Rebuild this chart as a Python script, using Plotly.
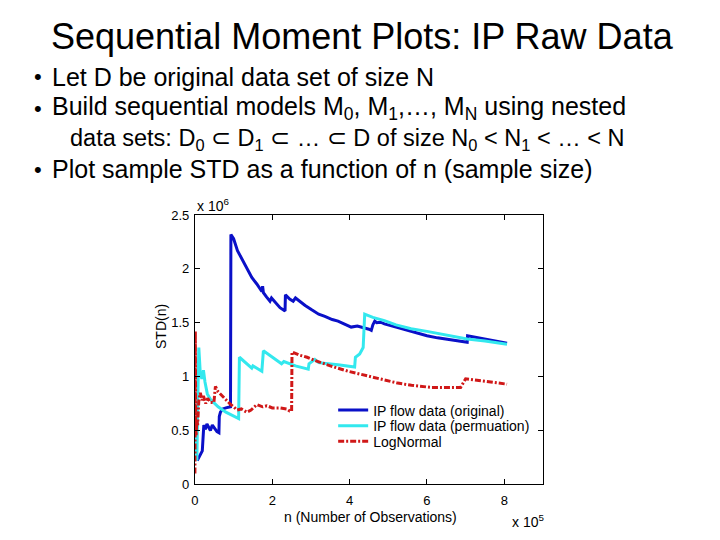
import plotly.graph_objects as go

# ---- data (n in units of 1e5, STD in units of 1e6) ----
orig_n = [0.06, 0.19, 0.23, 0.27, 0.31, 0.36, 0.40, 0.45, 0.50, 0.57, 0.62, 0.63, 0.66, 0.72, 0.80, 0.87, 0.92,
          0.93, 1.00, 1.10, 1.22, 1.35, 1.47, 1.60, 1.70, 1.73, 1.75, 1.77, 1.85, 1.94, 1.98, 2.05, 2.20, 2.33,
          2.34, 2.45, 2.54, 2.60, 2.70, 2.85, 3.02, 3.20, 3.36, 3.55, 3.70, 3.85, 4.04, 4.20, 4.39, 4.50, 4.56,
          4.60, 4.65, 4.70, 4.80, 4.90, 5.20, 5.59, 5.80, 6.00, 6.27, 6.50, 6.80, 7.04, 7.05, 7.50, 8.07]
orig_std = [0.22, 0.31, 0.55, 0.51, 0.56, 0.52, 0.50, 0.55, 0.52, 0.49, 0.48, 0.63, 0.67, 0.70, 0.71, 0.72, 0.72,
            2.32, 2.28, 2.17, 2.09, 2.00, 1.92, 1.86, 1.80, 1.79, 1.84, 1.78, 1.74, 1.70, 1.73, 1.70, 1.64, 1.61,
            1.76, 1.72, 1.70, 1.73, 1.70, 1.66, 1.62, 1.58, 1.56, 1.53, 1.515, 1.49, 1.46, 1.47, 1.455, 1.44, 1.43,
            1.48, 1.515, 1.50, 1.505, 1.49, 1.46, 1.42, 1.40, 1.38, 1.36, 1.35, 1.33, 1.32, 1.38, 1.35, 1.31]

perm_n = [0.02, 0.05, 0.08, 0.10, 0.12, 0.14, 0.18, 0.22, 0.26, 0.32, 0.40, 0.50, 0.60, 0.80, 1.00, 1.13,
          1.15, 1.30, 1.47, 1.50, 1.73, 1.77, 2.00, 2.24, 2.30, 2.45, 2.60, 2.93, 2.95, 3.10, 3.20, 3.70, 3.90,
          4.13, 4.15, 4.26, 4.35, 4.39, 4.60, 4.90, 5.20, 5.59, 6.00, 6.27, 6.60, 7.04, 7.50, 8.07]
perm_std = [0.55, 0.22, 0.90, 1.27, 1.15, 1.02, 0.98, 1.06, 0.95, 0.84, 0.79, 0.75, 0.72, 0.67, 0.63, 0.61,
            1.18, 1.13, 1.08, 1.10, 1.05, 1.24, 1.18, 1.12, 1.14, 1.12, 1.10, 1.07, 1.12, 1.16, 1.13, 1.11, 1.10,
            1.09, 1.18, 1.21, 1.27, 1.58, 1.55, 1.52, 1.48, 1.445, 1.42, 1.40, 1.38, 1.35, 1.33, 1.30]

logn_n = [0.00, 0.01, 0.02, 0.03, 0.05, 0.07, 0.10, 0.14, 0.18, 0.22, 0.28, 0.33, 0.40, 0.49, 0.53, 0.60,
          0.70, 0.80, 0.90, 1.00, 1.09, 1.20, 1.34, 1.45, 1.60, 1.75, 1.86, 2.00, 2.20, 2.37, 2.45, 2.50,
          2.51, 2.70, 2.90, 3.10, 3.50, 3.96, 4.30, 4.64, 5.00, 5.24, 5.60, 6.10, 6.50, 6.87, 7.00, 7.20,
          7.38, 7.70, 8.07]
logn_std = [0.10, 1.42, 0.55, 0.45, 0.60, 0.55, 0.78, 0.85, 0.78, 0.82, 0.75, 0.80, 0.76, 0.76, 0.91, 0.86,
            0.82, 0.78, 0.75, 0.72, 0.69, 0.70, 0.67, 0.69, 0.74, 0.72, 0.73, 0.71, 0.71, 0.70, 0.68, 0.68,
            1.23, 1.20, 1.18, 1.15, 1.10, 1.05, 1.02, 0.99, 0.96, 0.94, 0.92, 0.90, 0.90, 0.90, 0.98, 0.97,
            0.96, 0.95, 0.93]

series_names = ["IP flow data (original)", "IP flow data (permuation)", "LogNormal"]
x_ticks = [0, 2, 4, 6, 8]
y_ticks = [0, 0.5, 1, 1.5, 2, 2.5]

title = "Sequential Moment Plots: IP Raw Data"
bullets = [
    "Let D be original data set of size N",
    "Build sequential models M<sub>0</sub>, M<sub>1</sub>,…, M<sub>N</sub> using nested",
    "data sets: D<sub>0</sub> ⊂ D<sub>1</sub> ⊂ … ⊂ D of size N<sub>0</sub> &lt; N<sub>1</sub> &lt; … &lt; N",
    "Plot sample STD as a function of n (sample size)",
]

FONT = "Arial, Liberation Sans, sans-serif"
W, H = 720, 540

styles = [dict(color="#0a10c8", width=3),
          dict(color="#33e8ee", width=3),
          dict(color="#d01818", width=3, dash="6px,2px,2px,2px")]
legend_ids = ["legend", "legend2", "legend3"]
legend_rows = [415, 431, 447]

fig = go.Figure()
for (xs, ys), name, st, lg in zip([(orig_n, orig_std), (perm_n, perm_std), (logn_n, logn_std)],
                                  series_names, styles, legend_ids):
    fig.add_trace(go.Scatter(x=xs, y=ys, mode="lines", name=name, line=st, legend=lg))

# plot box in pixels
L, R, T, B = 192, 542, 214, 491

axis_common = dict(showgrid=False, zeroline=False, showline=True, linecolor="black", linewidth=1,
                   mirror="ticks", ticks="inside", ticklen=5, tickcolor="black",
                   tickfont=dict(family=FONT, size=13, color="black"))

leg_layout = {}
for lg, row in zip(legend_ids, legend_rows):
    leg_layout[lg] = dict(x=331 / W, y=1 - row / H, xanchor="left", yanchor="middle",
                          bgcolor="rgba(0,0,0,0)", borderwidth=0,
                          font=dict(family=FONT, size=14, color="black"))

fig.update_layout(
    width=W, height=H, margin=dict(l=0, r=0, t=0, b=0),
    paper_bgcolor="white", plot_bgcolor="white",
    font=dict(family=FONT, color="black"),
    xaxis=dict(domain=[L / W, R / W], range=[0, 9], tickvals=x_ticks,
               ticktext=[str(v) for v in x_ticks], ticklabelstandoff=4, **axis_common),
    yaxis=dict(domain=[1 - B / H, 1 - T / H], range=[0, 2.5], tickvals=y_ticks,
               ticktext=[f"{v:g}" for v in y_ticks], ticklabelstandoff=2, **axis_common),
    showlegend=True,
    **leg_layout,
)

ann = []
ann.append(dict(text=title, x=360 / W, y=1 - 30 / H, xref="paper", yref="paper",
                xanchor="center", yanchor="middle", showarrow=False,
                font=dict(family=FONT, size=36, color="black")))
bullet_y = [72, 104, 136, 167]
bullet_sizes = [25, 25, 23.5, 25]
for i, (txt, yy, fs) in enumerate(zip(bullets, bullet_y, bullet_sizes)):
    if i != 2:
        ann.append(dict(text="•", x=34 / W, y=1 - yy / H, xref="paper", yref="paper",
                        xanchor="center", yanchor="middle", showarrow=False,
                        font=dict(family=FONT, size=22, color="black")))
    ann.append(dict(text=txt, x=(46 if i != 2 else 64) / W, y=1 - yy / H, xref="paper", yref="paper",
                    xanchor="left", yanchor="middle", showarrow=False,
                    font=dict(family=FONT, size=fs, color="black")))
ann.append(dict(text="STD(n)", x=158 / W, y=1 - 329 / H, xref="paper", yref="paper",
                textangle=-90, xanchor="center", yanchor="middle", showarrow=False,
                font=dict(family=FONT, size=14, color="black")))
ann.append(dict(text="n (Number of Observations)", x=369 / W, y=1 - 525 / H, xref="paper", yref="paper",
                xanchor="center", yanchor="middle", showarrow=False,
                font=dict(family=FONT, size=14, color="black")))
ann.append(dict(text="x 10<sup>6</sup>", x=192 / W, y=1 - 204 / H, xref="paper", yref="paper",
                xanchor="left", yanchor="middle", showarrow=False,
                font=dict(family=FONT, size=14, color="black")))
ann.append(dict(text="x 10<sup>5</sup>", x=509 / W, y=1 - 529 / H, xref="paper", yref="paper",
                xanchor="left", yanchor="middle", showarrow=False,
                font=dict(family=FONT, size=14, color="black")))
fig.update_layout(annotations=ann)

fig.write_html("out.html")
